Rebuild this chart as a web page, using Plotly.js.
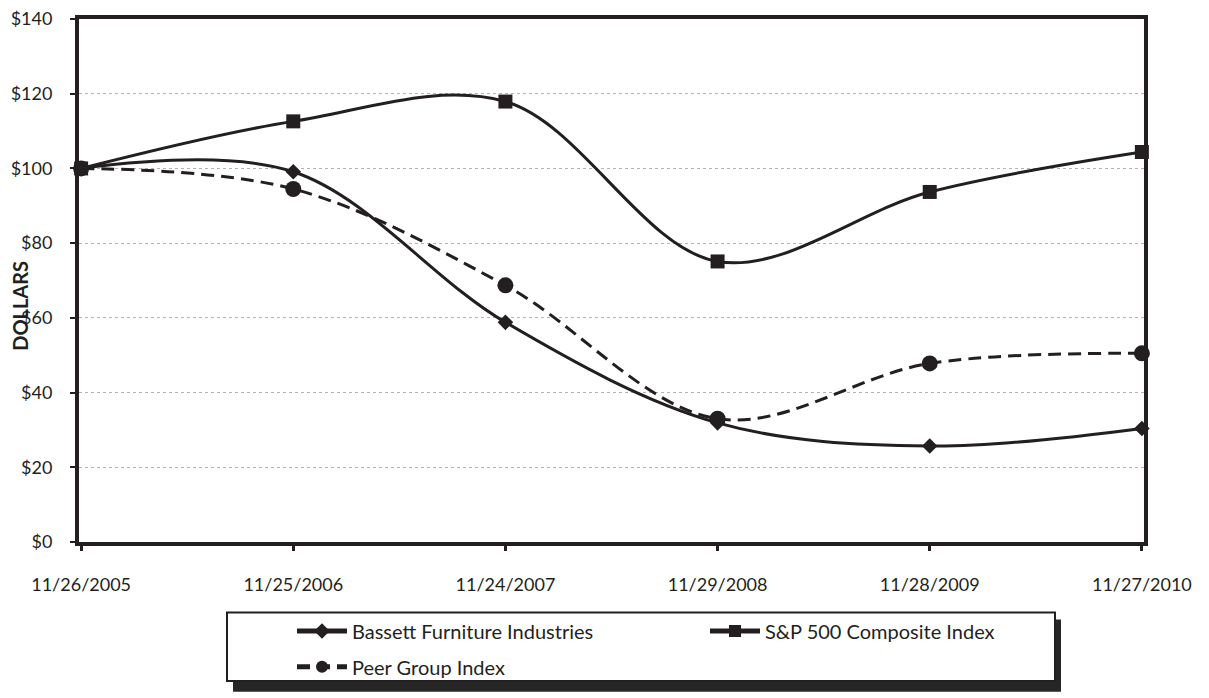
<!DOCTYPE html>
<html>
<head>
<meta charset="utf-8">
<script src="https://cdn.plot.ly/plotly-3.0.1.min.js"></script>
<style>html,body{margin:0;padding:0;background:#fff}#chart{width:1209px;height:698px}</style>
</head>
<body>
<div id="chart"></div>
<script>
const dates = ["11/26/2005","11/25/2006","11/24/2007","11/29/2008","11/28/2009","11/27/2010"];
const bassett = [100, 99.1, 58.8, 31.9, 25.7, 30.4];
const sp500 = [100, 112.6, 117.9, 75.1, 93.7, 104.4];
const peer = [100, 94.5, 68.7, 33.0, 47.8, 50.5];
const yTicks = [0, 20, 40, 60, 80, 100, 120, 140];
const yTickText = ["$0", "$20", "$40", "$60", "$80", "$100", "$120", "$140"];

const ink = '#231f20';
const FONT = 'Lato, "Open Sans", sans-serif';

const W = 1209, H = 698;
const L = 79, R = 65, T = 19, B = 152;
const pw = W - L - R, ph = H - T - B;
const px2x = p => (p - L) / pw;
const py2y = p => (H - B - p) / ph;

const traces = [
  {name: 'Bassett Furniture Industries', x: dates, y: bassett, type: 'scatter', mode: 'lines+markers',
   line: {color: ink, width: 3, shape: 'spline', smoothing: 1},
   marker: {symbol: 'diamond', size: 12, color: ink}, cliponaxis: false, legend: 'legend'},
  {name: 'S&P 500 Composite Index', x: dates, y: sp500, type: 'scatter', mode: 'lines+markers',
   line: {color: ink, width: 3, shape: 'spline', smoothing: 1},
   marker: {symbol: 'square', size: 14, color: ink}, cliponaxis: false, legend: 'legend'},
  {name: 'Peer Group Index', x: dates, y: peer, type: 'scatter', mode: 'lines+markers',
   line: {color: ink, width: 3, shape: 'spline', smoothing: 1, dash: '13px,7px'},
   marker: {symbol: 'circle', size: 16, color: ink}, cliponaxis: false, legend: 'legend2'}
];

const legendCommon = {
  orientation: 'h', xanchor: 'left', yanchor: 'top',
  bgcolor: 'rgba(0,0,0,0)', borderwidth: 0,
  font: {family: FONT, size: 20, color: ink},
  itemwidth: 50, entrywidth: 348, itemsizing: 'constant', itemclick: false, itemdoubleclick: false
};

const layout = {
  width: W, height: H,
  margin: {l: L, r: R, t: T, b: B, pad: 0},
  paper_bgcolor: '#fff', plot_bgcolor: '#fff',
  font: {family: FONT, size: 18, color: ink},
  showlegend: true,
  xaxis: {
    type: 'category', range: [-0.01, 5.01], fixedrange: true,
    showline: true, linecolor: ink, linewidth: 4, mirror: true,
    ticks: 'outside', ticklen: 5, tickwidth: 3, tickcolor: ink,
    showgrid: false, zeroline: false,
    tickfont: {family: FONT, size: 18, color: ink},
    ticklabelstandoff: 18
  },
  yaxis: {
    range: [0, 140], tickmode: 'array', tickvals: yTicks, ticktext: yTickText, fixedrange: true,
    showline: true, linecolor: ink, linewidth: 4, mirror: true,
    ticks: 'outside', ticklen: 5, tickwidth: 2, tickcolor: ink,
    showgrid: true, gridcolor: '#b3b3b3', gridwidth: 1, griddash: 'dot',
    zeroline: false,
    tickfont: {family: FONT, size: 18, color: ink},
    ticklabelstandoff: 14
  },
  legend: Object.assign({}, legendCommon, {x: px2x(292), y: py2y(616)}),
  legend2: Object.assign({}, legendCommon, {x: px2x(292), y: py2y(652)}),
  annotations: [{
    text: '<b>DOLLARS</b>', xref: 'paper', yref: 'paper',
    x: px2x(20), y: py2y(308), xanchor: 'center', yanchor: 'middle',
    textangle: -90, showarrow: false, font: {family: FONT, size: 20, color: ink}
  }],
  shapes: [
    {type: 'rect', xref: 'paper', yref: 'paper', layer: 'below',
     x0: px2x(233), x1: px2x(1061), y0: py2y(624), y1: py2y(697),
     fillcolor: '#262626', line: {width: 0}},
    {type: 'rect', xref: 'paper', yref: 'paper', layer: 'below',
     x0: px2x(227), x1: px2x(1055), y0: py2y(617), y1: py2y(686),
     fillcolor: '#ffffff', line: {color: ink, width: 2}}
  ]
};

Plotly.newPlot('chart', traces, layout, {displayModeBar: false, staticPlot: true});
</script>
</body>
</html>
